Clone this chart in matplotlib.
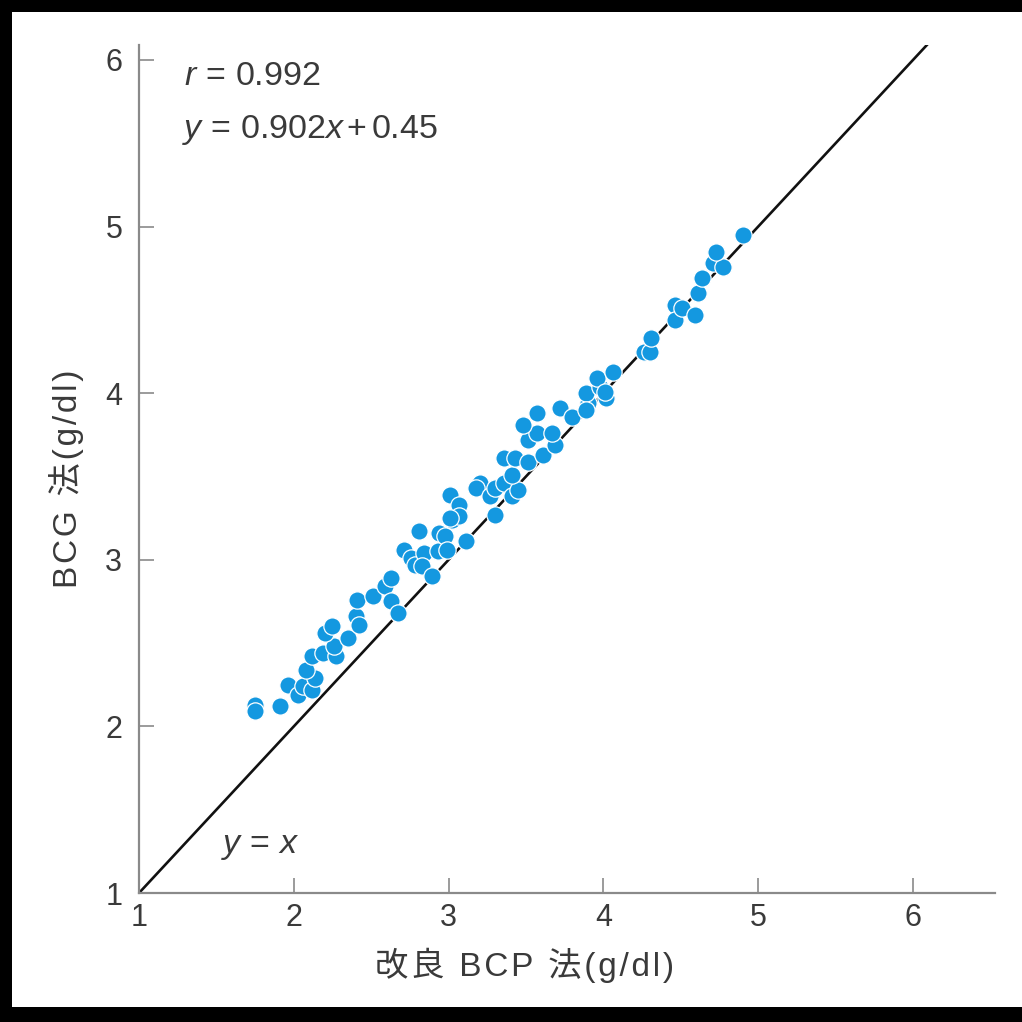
import matplotlib.pyplot as plt
from matplotlib.patches import Rectangle

plt.rcParams['font.family'] = ['Liberation Sans', 'Noto Sans CJK JP', 'DejaVu Sans']
plt.rcParams['mathtext.fontset'] = 'custom'
plt.rcParams['mathtext.rm'] = 'Liberation Sans'
plt.rcParams['mathtext.it'] = 'Liberation Sans:italic'

# 改良BCP法 vs BCG法 (g/dl)
bcp = [1.75, 1.75, 1.91, 1.96, 2.03, 2.06, 2.12, 2.14, 2.08, 2.12,
       2.19, 2.27, 2.26, 2.20, 2.25, 2.35, 2.40, 2.42, 2.41, 2.51,
       2.59, 2.63, 2.63, 2.67, 2.71, 2.76, 2.78, 2.81, 2.84, 2.83,
       2.89, 2.93, 2.94, 2.98, 2.99, 3.02, 3.06, 3.11, 3.01, 3.07,
       3.07, 3.01, 3.20, 3.18, 3.30, 3.27, 3.30, 3.36, 3.41, 3.45,
       3.41, 3.36, 3.43, 3.51, 3.61, 3.69, 3.51, 3.57, 3.67, 3.57,
       3.48, 3.72, 3.80, 3.90, 3.89, 3.98, 4.02, 3.96, 4.06, 4.01,
       3.89, 4.26, 4.30, 4.31, 4.46, 4.46, 4.51, 4.59, 4.61, 4.64,
       4.71, 4.77, 4.73, 4.90]
bcg = [2.13, 2.09, 2.12, 2.25, 2.19, 2.24, 2.22, 2.29, 2.34, 2.42,
       2.44, 2.42, 2.48, 2.56, 2.60, 2.53, 2.66, 2.61, 2.76, 2.78,
       2.84, 2.89, 2.75, 2.68, 3.06, 3.01, 2.97, 3.17, 3.04, 2.96,
       2.90, 3.05, 3.16, 3.14, 3.06, 3.24, 3.28, 3.11, 3.39, 3.33,
       3.26, 3.25, 3.46, 3.43, 3.27, 3.38, 3.43, 3.46, 3.38, 3.42,
       3.51, 3.61, 3.61, 3.59, 3.63, 3.69, 3.72, 3.76, 3.76, 3.88,
       3.81, 3.91, 3.86, 3.94, 4.00, 4.04, 3.97, 4.09, 4.13, 4.01,
       3.90, 4.25, 4.25, 4.33, 4.53, 4.44, 4.51, 4.47, 4.60, 4.69,
       4.78, 4.76, 4.85, 4.95]

ticks = [1, 2, 3, 4, 5, 6]
xlabel = '改良 BCP 法(g/dl)'
ylabel = 'BCG 法(g/dl)'
r_value = '0.992'
slope, intercept = '0.902', '0.45'

grey = '#8a8a8a'
dark = '#3a3a3a'


def spaced(s, gap='\u200a'):
    # loosen letter spacing a little
    return gap.join(s)


def eq(*tokens, gap=0.15):
    # join mathtext tokens with a fixed small gap; numbers stay upright
    out = []
    for tok in tokens:
        out.append(tok if tok in ('r', 'x', 'y') else r'\mathrm{%s}' % tok)
    return '$' + (r'\hspace{%.2f}' % gap).join(out) + '$'


fig = plt.figure(figsize=(10.22, 10.22), dpi=100, facecolor='black')
fig.patches.append(Rectangle((12 / 1022, 15 / 1022), 1, 1 - 27 / 1022,
                             transform=fig.transFigure, facecolor='white',
                             edgecolor='none', zorder=-10))

ax = fig.add_axes([139 / 1022, 129 / 1022, 856 / 1022, 848 / 1022])
ax.set_facecolor('none')
ax.set_xlim(1, 6.53)
ax.set_ylim(1, 6.09)

ax.axline((1, 1), slope=1, color='#111111', lw=1.9, zorder=2)
ax.scatter(bcp, bcg, s=155, color='#1498e0', edgecolor='white',
           linewidth=0.9, zorder=3)

for side in ['top', 'right']:
    ax.spines[side].set_visible(False)
for side in ['left', 'bottom']:
    ax.spines[side].set_color(grey)
    ax.spines[side].set_linewidth(1.6)

ax.set_xticks(ticks)
ax.set_yticks(ticks)
ax.tick_params(direction='in', length=11, width=1.2, color=grey,
               labelsize=22, labelcolor=dark)
ax.tick_params(axis='y', pad=12)
ax.tick_params(axis='x', pad=7)

ax.set_xlabel(spaced(xlabel), fontsize=24, color=dark)
ax.set_ylabel(spaced(ylabel), fontsize=24, color=dark)
ax.xaxis.set_label_coords(0.451, -0.064)
ax.yaxis.set_label_coords(-0.064, 0.489)

ax.text(1.29, 5.90, eq('r', '=', r_value), fontsize=24.5, color=dark,
        va='center')
ax.text(1.28, 5.58, eq('y', '=', slope + 'x', '+', intercept).replace(
            r'\mathrm{%sx}' % slope, r'\mathrm{%s}x' % slope),
        fontsize=24.5, color=dark, va='center')
ax.text(1.53, 1.28, eq('y', '=', 'x'), fontsize=24.5, color=dark,
        va='center')

fig.savefig('out.png', dpi=100, facecolor=fig.get_facecolor())
